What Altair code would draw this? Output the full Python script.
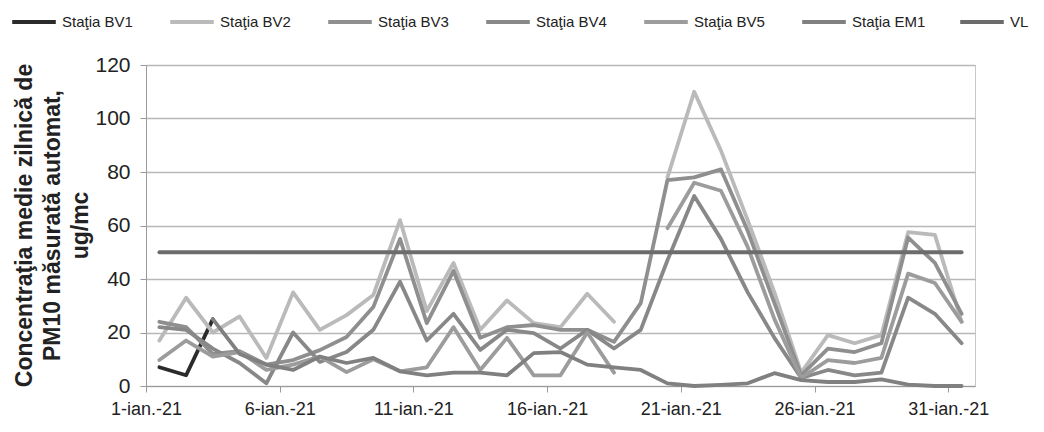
import altair as alt
import pandas as pd

N = None
days = list(range(1, 32))
series_names = ["Staţia BV1", "Staţia BV2", "Staţia BV3", "Staţia BV4",
                "Staţia BV5", "Staţia EM1", "VL"]

bv1 = [7, 4, 25] + [N] * 28
bv2 = [17, 33, 20, 26, 10.5, 35, 21, 26.5, 34, 62, 28, 46, 21, 32, 23.5, 22, 34.5, 24,
       N, 78, 110, 88, 62, 35, 5, 19, 16, 19, 57.5, 56.5, 24]
bv3 = [24, 22, 12, 13, 8, 9.7, 13.4, 18.3, 29.5, 55, 23.5, 43, 18, 22, 22.8, 21, 21, 16.5,
       31, 77, 78, 81, 58, 31, 4, 14, 12.7, 16, 55.5, 46, 27]
bv4 = [22, 21, 14, 8.6, 1, 20, 9, 12.7, 21, 39, 17, 27, 13.5, 21, 19.8, 14, 21, 14,
       21, 47, 71, 55, 35, 18, 3, 6, 4, 5, 33, 27, 16]
bv5 = [9.7, 17, 11, 12.7, 6, 8, 11, 5.2, 10, 5.5, 7, 22, 6, 18, 4, 4, 20, 5,
       N, 59, 76, 73, 52, 25, 3, 9.7, 8.6, 10.5, 42, 38.5, 24]
em1 = [N, N, 25, 12, 8, 6, 11, 8.6, 10.5, 5.5, 4, 5, 5, 4, 12.3, 12.7, 8, 7,
       6, 1, 0, 0.4, 1, 4.8, 2.2, 1.5, 1.5, 2.5, 0.5, 0, 0]
vl = [50] * 31

colors = ["#2b2b2b", "#bababa", "#8f8f8f", "#888888", "#9c9c9c", "#808080", "#6c6c6c"]
widths = [3.8, 3.8, 3.8, 3.8, 3.8, 3.8, 4.5]

tick_positions = [0.5, 5.5, 10.5, 15.5, 20.5, 25.5, 30.5]
y_ticks = [0, 20, 40, 60, 80, 100, 120]
y_title = ["Concentraţia medie zilnică de", "PM10 măsurată automat,", "ug/mc"]

rows = []
for name, vals in zip(series_names, [bv1, bv2, bv3, bv4, bv5, em1, vl]):
    for d, v in zip(days, vals):
        rows.append({"day": d, "series": name, "value": v})
df = pd.DataFrame(rows)

chart = alt.Chart(df).mark_line(strokeJoin="round", strokeCap="round").encode(
    x=alt.X("day:Q",
            scale=alt.Scale(domain=[0.5, 31.5], nice=False, zero=False),
            axis=alt.Axis(values=tick_positions,
                          labelExpr="format(datum.value + 0.5, 'd') + '-ian.-21'",
                          title=None, grid=False, domain=True,
                          domainColor="#9a9a9a", tickColor="#9a9a9a", tickSize=6,
                          labelFontSize=18, labelFont="Liberation Sans",
                          labelColor="#222222", labelPadding=8,
                          labelFlush=False, labelOverlap=False)),
    y=alt.Y("value:Q",
            scale=alt.Scale(domain=[0, 120], nice=False),
            axis=alt.Axis(values=y_ticks, grid=True, gridColor="#b8b8b8", gridWidth=1.4,
                          domain=True, domainColor="#9a9a9a", tickColor="#9a9a9a",
                          tickSize=6, labelFontSize=21, labelFont="Liberation Sans",
                          labelColor="#222222", labelPadding=10,
                          title=y_title, titleFontSize=23, titleFont="Liberation Sans",
                          titleFontWeight="bold", titleColor="#222222",
                          titleAngle=270, titleX=-110, titleY=160,
                          titleLineHeight=28, titleAlign="center",
                          titleBaseline="bottom")),
    color=alt.Color("series:N",
                    scale=alt.Scale(domain=series_names, range=colors),
                    legend=alt.Legend(title=None, orient="none", legendX=-136,
                                      legendY=-67, direction="horizontal", columns=7,
                                      symbolType="stroke", symbolSize=1900,
                                      symbolStrokeWidth=4, labelFontSize=15,
                                      labelFont="Liberation Sans", labelColor="#222222",
                                      columnPadding=26, gridAlign="all", labelLimit=200,
                                      labelOffset=4)),
    strokeWidth=alt.StrokeWidth("series:N",
                                scale=alt.Scale(domain=series_names, range=widths),
                                legend=None),
).properties(
    width=829, height=321, autosize="none",
    padding={"left": 138, "top": 57, "right": 60, "bottom": 38},
).configure_view(stroke="#c8c8c8")

chart.save("out.html", embed_options={"renderer": "svg", "actions": False})
